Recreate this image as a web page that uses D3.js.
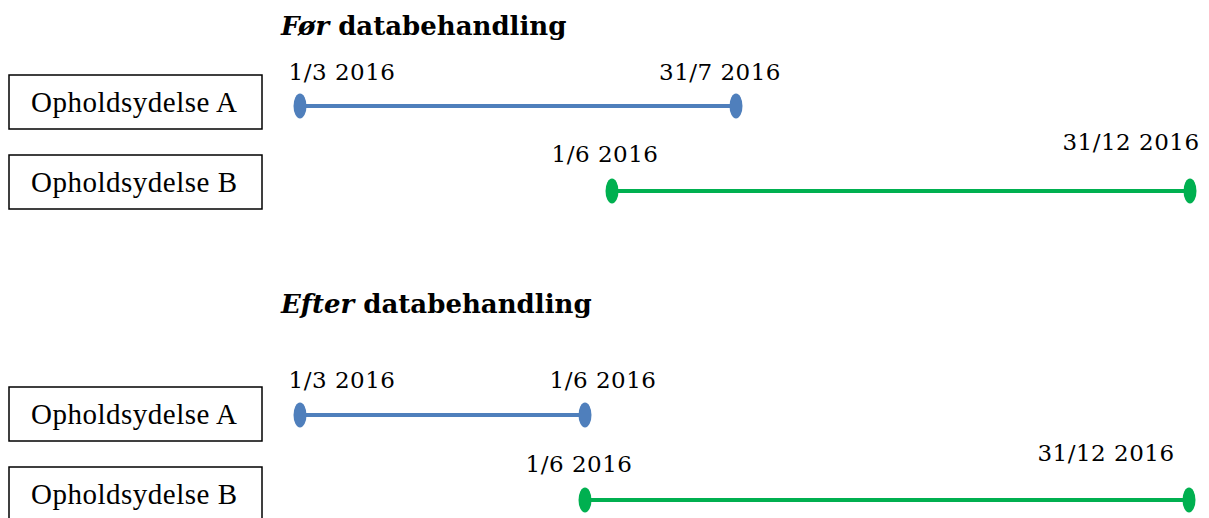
<!DOCTYPE html>
<html>
<head>
<meta charset="utf-8">
<script src="https://cdn.jsdelivr.net/npm/d3@7"></script>
<style>
  body { margin: 0; background: #fff; }
  svg { display: block; }
</style>
</head>
<body>
<svg id="figur" width="1209" height="518"></svg>
<script>
// DONNÉES : deux ydelser, avant et après le traitement des données
const ydelser = ["Opholdsydelse A", "Opholdsydelse B"]
const titresItalique = ["Før", "Efter"]
const titreSuite = "databehandling"
const debutFoer = ["2016-03-01", "2016-06-01"]
const finFoer = ["2016-07-31", "2016-12-31"]
const debutEfter = ["2016-03-01", "2016-06-01"]
const finEfter = ["2016-06-01", "2016-12-31"]
const couleurs = ["#4f7fbc", "#00b050"]

const parse = d3.timeParse("%Y-%m-%d")
const format = d3.timeFormat("%-d/%-m %Y")

// MISE EN PAGE (schéma, pas à l'échelle : une échelle par panneau)
const panneaux = [
    {
        debut: debutFoer, fin: finFoer, titreY: 35,
        domaine: ["2016-03-01", "2016-06-01", "2016-07-31", "2016-12-31"],
        plage: [300, 612, 736, 1190],
        lignes: [106, 191], boites: [75, 155],
        // décalages des étiquettes [dx début, dx fin, dy début, dy fin]
        decal: [[42, -16, -26, -26], [-7, -59, -29, -41]]
    },
    {
        debut: debutEfter, fin: finEfter, titreY: 313,
        domaine: ["2016-03-01", "2016-06-01", "2016-12-31"],
        plage: [300, 585, 1189],
        lignes: [415, 500], boites: [387, 467],
        decal: [[42, 18, -27, -27], [-6, -83, -28, -39]]
    }
]

const svg = d3.select("#figur")
const policeDates = "'DejaVu Serif', serif"

panneaux.forEach(function(p, i) {
    const x = d3.scaleTime()
        .domain(p.domaine.map(parse))
        .range(p.plage)
    const yLigne = d3.scalePoint().domain(ydelser).range(p.lignes)
    const yBoite = d3.scalePoint().domain(ydelser).range(p.boites)

    // Titre
    const titre = svg.append("text")
        .attr("x", 281)
        .attr("y", p.titreY)
        .style("font-family", policeDates)
        .style("font-size", "26px")
        .style("font-weight", "bold")
        .attr("fill", "#000")
    titre.append("tspan").style("font-style", "italic").text(titresItalique[i])
    titre.append("tspan").text(" " + titreSuite)

    // Boîtes avec le nom de la ydelse
    const g = svg.append("g")
    g.selectAll("rect.boite")
        .data(ydelser)
        .join("rect")
        .attr("class", "boite")
        .attr("x", 9)
        .attr("y", d => yBoite(d))
        .attr("width", 253)
        .attr("height", 54)
        .attr("fill", "#fff")
        .attr("stroke", "#000")
        .attr("stroke-width", 1.5)
    g.selectAll("text.nom")
        .data(ydelser)
        .join("text")
        .attr("class", "nom")
        .attr("x", 134)
        .attr("y", d => yBoite(d) + 37)
        .attr("text-anchor", "middle")
        .style("font-family", "'Liberation Serif', serif")
        .style("font-size", "29px")
        .attr("textLength", 206)
        .text(d => d)

    // Périodes
    const periodes = ydelser.map((d, j) => ({
        nom: d, j: j,
        debut: parse(p.debut[j]), fin: parse(p.fin[j])
    }))
    g.selectAll("line.periode")
        .data(periodes)
        .join("line")
        .attr("class", "periode")
        .attr("x1", d => x(d.debut))
        .attr("x2", d => x(d.fin))
        .attr("y1", d => yLigne(d.nom))
        .attr("y2", d => yLigne(d.nom))
        .attr("stroke", d => couleurs[d.j])
        .attr("stroke-width", 4)

    const bouts = periodes.flatMap(d => [
        { nom: d.nom, j: d.j, date: d.debut, k: 0 },
        { nom: d.nom, j: d.j, date: d.fin, k: 1 }
    ])
    g.selectAll("ellipse.bout")
        .data(bouts)
        .join("ellipse")
        .attr("class", "bout")
        .attr("cx", d => x(d.date))
        .attr("cy", d => yLigne(d.nom))
        .attr("rx", 6.5)
        .attr("ry", 12.5)
        .attr("fill", d => couleurs[d.j])
    g.selectAll("text.date")
        .data(bouts)
        .join("text")
        .attr("class", "date")
        .attr("x", d => x(d.date) + p.decal[d.j][d.k])
        .attr("y", d => yLigne(d.nom) + p.decal[d.j][d.k + 2])
        .attr("text-anchor", "middle")
        .style("font-family", policeDates)
        .style("font-size", "23px")
        .style("letter-spacing", "0.5px")
        .text(d => format(d.date))
})
</script>
</body>
</html>
